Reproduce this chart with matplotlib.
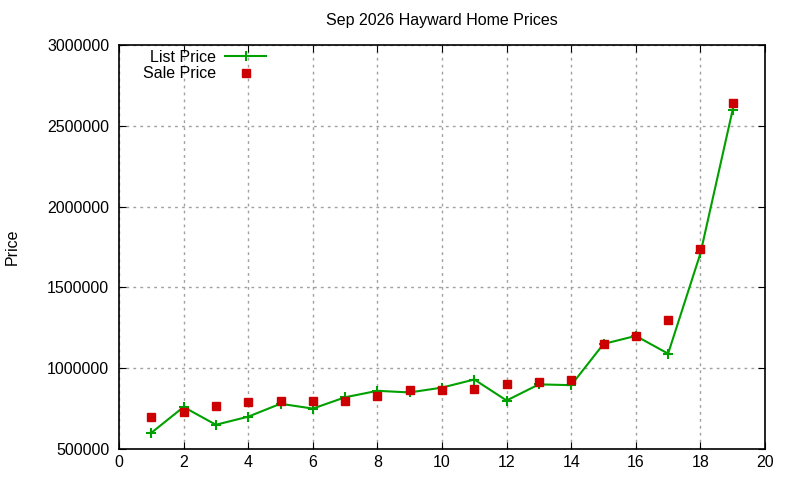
import matplotlib
matplotlib.use("Agg")
import matplotlib.pyplot as plt

plt.rcParams['font.family'] = ['Liberation Sans', 'DejaVu Sans']

x_vals = list(range(1, 20))
list_price = [600000, 760000, 650000, 700000, 780000, 750000, 820000, 860000, 850000,
              880000, 930000, 800000, 900000, 895000, 1150000, 1200000, 1090000, 1710000, 2600000]
sale_price = [695000, 730000, 765000, 790000, 795000, 795000, 800000, 830000, 865000,
              865000, 870000, 905000, 915000, 925000, 1150000, 1200000, 1300000, 1740000, 2640000]
x_ticks = list(range(0, 21, 2))
y_ticks = [500000, 1000000, 1500000, 2000000, 2500000, 3000000]

W, H = 800, 480
fig = plt.figure(figsize=(8, 4.8), dpi=100)
L, R, T, B = 119, 765, 45, 449
ax = fig.add_axes([L/W, 1-B/H, (R-L)/W, (B-T)/H])

ax.plot(x_vals, list_price, color='#00a000', lw=1.5, marker='+', ms=7.5, mew=1.5,
        label='List Price', zorder=3)
ax.plot(x_vals, sale_price, linestyle='none', color='#cc0000', marker='s', ms=6,
        label='Sale Price', zorder=4)

ax.set_xlim(0, 20)
ax.set_ylim(500000, 3000000)
ax.set_xticks(x_ticks)
ax.set_yticks(y_ticks)
ax.set_yticklabels([str(v) for v in y_ticks])
ax.grid(True, color='#a0a0a0', linestyle=(0, (2, 3)), lw=1)
ax.tick_params(direction='in', top=True, right=True, length=5, labelsize=11.5, color='black')
ax.tick_params(axis='y', pad=7)
ax.tick_params(axis='x', pad=4)
for s in ax.spines.values():
    s.set_linewidth(1.2)

fig.text((L+R)/2/W, 1-20/H, 'Sep 2026 Hayward Home Prices', ha='center', va='center', fontsize=11.5)
fig.text(12/W, 1-247/H, 'Price', ha='center', va='center', rotation=90, fontsize=11.5)

leg = ax.legend(loc='upper left', bbox_to_anchor=((143-L)/(R-L), 1-(5)/(B-T)), frameon=False,
                markerfirst=False, fontsize=11.5, handlelength=2.6, labelspacing=0.07,
                borderaxespad=0.0, borderpad=0.0, handletextpad=0.55)

fig.savefig('out.png', dpi=100)
